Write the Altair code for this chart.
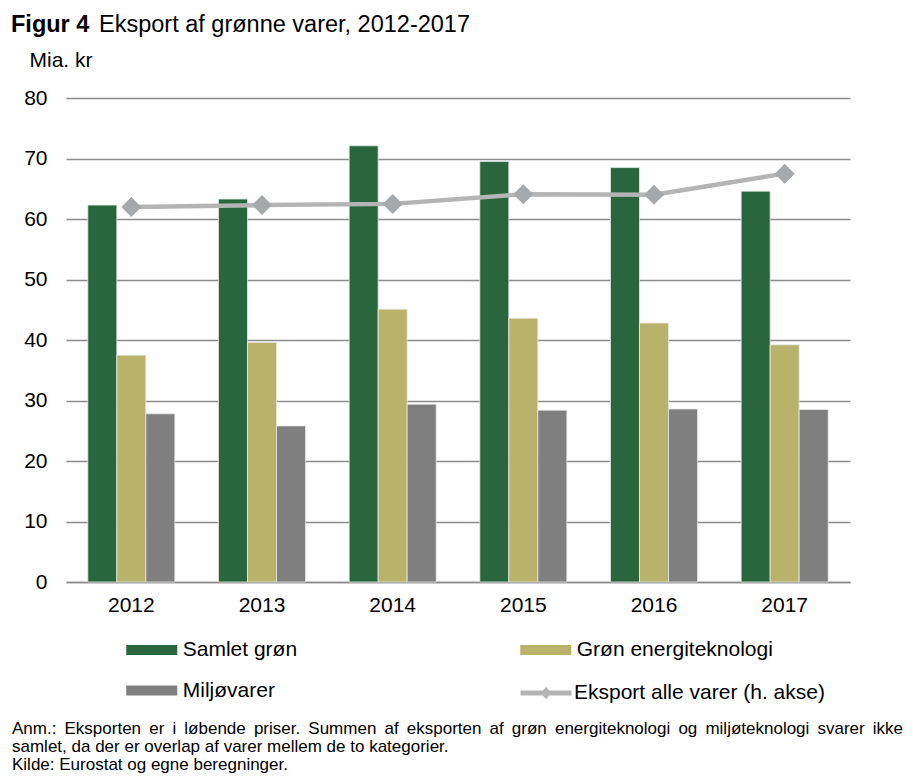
import altair as alt
import pandas as pd

years = ["2012", "2013", "2014", "2015", "2016", "2017"]
samlet = [62.3, 63.3, 72.1, 69.5, 68.5, 64.6]
energi = [37.5, 39.6, 45.1, 43.6, 42.8, 39.2]
miljo = [27.8, 25.8, 29.4, 28.4, 28.6, 28.5]
eksport = [620, 623, 625, 641, 640, 675]

bar_series = ["Samlet grøn", "Grøn energiteknologi", "Miljøvarer"]
bar_colors = ["#29663D", "#B9B26B", "#7F7F7F"]
line_series = "Eksport alle varer (h. akse)"

title_bold = "Figur 4"
title_rest = "Eksport af grønne varer, 2012-2017"
note_line1 = "Anm.: Eksporten er i løbende priser. Summen af eksporten af grøn energiteknologi og miljøteknologi svarer ikke til"
notes = [
    note_line1.replace(" ", " \u2009"),
    "samlet, da der er overlap af varer mellem de to kategorier.",
    "Kilde: Eurostat og egne beregninger.",
]

FONT = "Liberation Sans"

rows = []
for i, y in enumerate(years):
    for s, vals in zip(bar_series, [samlet, energi, miljo]):
        rows.append({"year": y, "series": s, "value": vals[i]})
bars_df = pd.DataFrame(rows)
line_df = pd.DataFrame({"year": years, "value": eksport, "series": [line_series] * len(years)})

x_scale = alt.Scale(domain=years, paddingInner=0.334, paddingOuter=0.167)

bars = alt.Chart(bars_df).mark_bar(stroke="#E4E8E4", strokeWidth=0.8).encode(
    x=alt.X("year:N", scale=x_scale, sort=years,
            axis=alt.Axis(title=None, labelAngle=0, ticks=False, domain=True,
                          domainColor="#8C8C8C", domainWidth=1.5, labelFontSize=21,
                          labelFont=FONT, labelColor="#000", labelPadding=12, grid=False)),
    xOffset=alt.XOffset("series:N", sort=bar_series, scale=alt.Scale(domain=bar_series, paddingInner=0)),
    y=alt.Y("value:Q", scale=alt.Scale(domain=[0, 80], nice=False),
            axis=alt.Axis(orient="left", values=list(range(0, 81, 10)), grid=True,
                          gridColor="#8C8C8C", gridWidth=1.5, domain=False, ticks=False,
                          labelFontSize=21, labelFont=FONT, labelColor="#000", labelPadding=19,
                          title="Mia. kr", titleAngle=0, titleAlign="left", titleBaseline="alphabetic",
                          titleX=-37, titleY=-32, titleFontSize=21, titleFont=FONT,
                          titleFontWeight="normal", titleColor="#000")),
    color=alt.Color("series:N", sort=bar_series,
                    scale=alt.Scale(domain=bar_series, range=bar_colors),
                    legend=alt.Legend(title=None, orient="none", legendX=72.75, legendY=539,
                                      direction="horizontal",
                                      columns=2, columnPadding=222, rowPadding=17.5,
                                      symbolType="M-2,-0.4H2V0.4H-2Z", symbolSize=650,
                                      symbolStrokeWidth=0, labelOffset=18, labelFontSize=21,
                                      labelLimit=500,
                                      labelFont=FONT, labelColor="#000", padding=0)),
)

line_y = alt.Y("value:Q", scale=alt.Scale(domain=[0, 800], nice=False),
               axis=alt.Axis(orient="right", values=list(range(0, 801, 100)), grid=False,
                             domain=False, ticks=False, labelFontSize=21, labelFont=FONT,
                             labelColor="#000", labelPadding=19,
                             title="Mia. kr.", titleAngle=0, titleAlign="right",
                             titleBaseline="alphabetic", titleX=57, titleY=-32,
                             titleFontSize=21, titleFont=FONT, titleFontWeight="normal",
                             titleColor="#000"))

line = alt.Chart(line_df).mark_line(strokeWidth=4.5).encode(
    x=alt.X("year:N", sort=years),
    y=line_y,
    color=alt.Color("series:N", scale=alt.Scale(domain=[line_series], range=["#B4B4B4"]),
                    legend=alt.Legend(title=None, orient="none", legendX=467, legendY=582,
                                      symbolType="M-2,-0.2H-0.24L0,-0.5L0.24,-0.2H2V0.2H0.24L0,0.5L-0.24,0.2H-2Z",
                                      symbolSize=650, symbolStrokeWidth=0,
                                      symbolFillColor="#B4B4B4", labelOffset=15,
                                      labelLimit=500,
                                      labelFontSize=21, labelFont=FONT, labelColor="#000",
                                      padding=0)),
)

points = alt.Chart(line_df).mark_point(shape="diamond", size=400, filled=True,
                                       color="#A6A9AC", opacity=1).encode(
    x=alt.X("year:N", sort=years),
    y=alt.Y("value:Q", scale=alt.Scale(domain=[0, 800], nice=False), axis=None),
)

line_layer = alt.layer(line, points)

title1 = alt.Chart(pd.DataFrame({"t": [title_bold]})).mark_text(
    align="left", baseline="alphabetic", fontSize=23.5,
    font=FONT, fontWeight="bold", color="#000").encode(
    x=alt.value(-55), y=alt.value(-66), text="t:N")
title2 = alt.Chart(pd.DataFrame({"t": [title_rest]})).mark_text(
    align="left", baseline="alphabetic", fontSize=23.5, font=FONT, color="#000").encode(
    x=alt.value(33), y=alt.value(-66), text="t:N")

top_rule = alt.Chart(pd.DataFrame({"a": [0]})).mark_rule(color="#A8A8A8", strokeWidth=2.5).encode(
    x=alt.value(-56), x2=alt.value(850), y=alt.value(-93))

notes_df = pd.DataFrame({"t": notes, "i": [0, 1, 2]})
notes_mark = alt.Chart(notes_df).mark_text(align="left", baseline="alphabetic", fontSize=17,
                                           font=FONT, color="#000").encode(
    x=alt.value(-54),
    y=alt.Y("i:Q", scale=alt.Scale(domain=[0, 2], range=[636, 672]), axis=None),
    text="t:N",
)

chart = alt.layer(bars, line_layer, title1, title2, top_rule, notes_mark).resolve_scale(
    y="independent", color="independent"
).properties(
    width=784, height=484,
    background="white",
    autosize=alt.AutoSizeParams(type="none"),
    padding={"left": 58, "top": 90, "right": 55, "bottom": 192},
).configure_view(stroke=None)

chart.save("out.html", embed_options={"renderer": "svg", "actions": False})
